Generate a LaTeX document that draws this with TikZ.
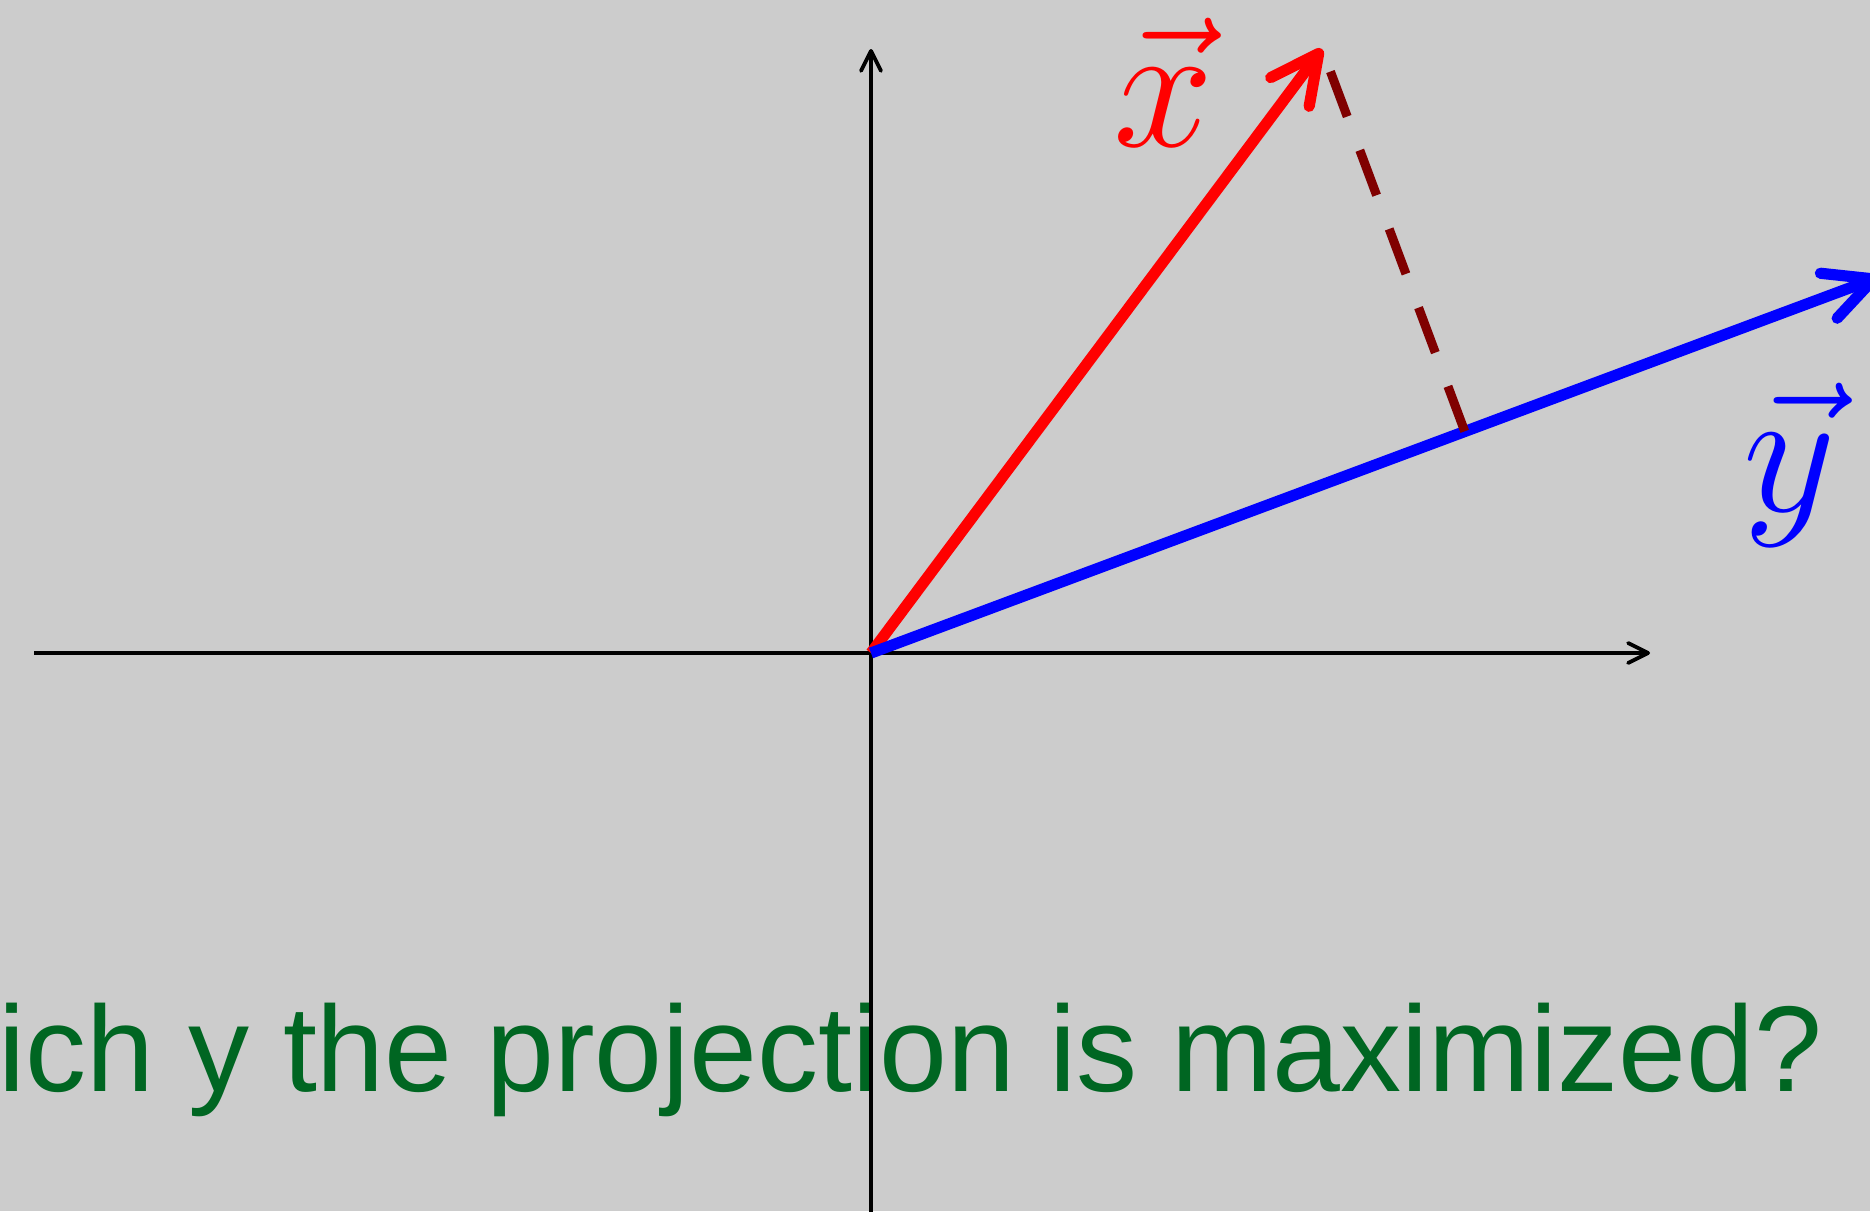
\RequirePackage{fix-cm}
\documentclass[tikz,border=0pt]{standalone}
\usepackage{fontspec}
\setmainfont{Liberation Sans}
\usetikzlibrary{arrows.meta}
\definecolor{bg}{RGB}{204,204,204}
\definecolor{qgreen}{RGB}{0,102,34}
\definecolor{dred}{RGB}{128,0,0}
\begin{document}
\begin{tikzpicture}[x=0.5pt,y=-0.5pt,
  axisline/.style={line width=1.9pt,black,-{Straight Barb[length=10pt,width=10pt,round]}},
  vecline/.style={line width=5.6pt,-{Straight Barb[length=24pt,width=24pt,round]}},
  projline/.style={line width=4.5pt,dred,dash pattern=on 24pt off 18pt},
  veclabel/.style={font=\fontsize{90}{90}\selectfont,anchor=base,inner sep=0pt},
  question/.style={text=qgreen,font=\fontsize{61}{61}\selectfont,anchor=base west,inner sep=0pt}]
\fill[bg] (0,0) rectangle (1870,1211);
\useasboundingbox (0,0) rectangle (1870,1211);
\coordinate (O) at (871,653);
\coordinate (xl) at (34,653);
\coordinate (xr) at (1650,653);
\coordinate (yb) at (871,1215);
\coordinate (yt) at (871,49);
\coordinate (X) at (1322,49);
\coordinate (Y) at (1879,277);
\coordinate (P) at (1464.7,431.3);
\node[question] (q) at (-2,1091) {ich y the projection is maximized?};
\draw[axisline] (xl) -- (xr);
\draw[axisline] (yb) -- (yt);
\draw[vecline,red] (O) -- (X);
\draw[vecline,blue] (O) -- (Y);
\draw[projline] (P) -- (X);
\node[veclabel,text=red] (lx) at (1164,146) {$\vec{x}$};
\node[veclabel,text=blue] (ly) at (1790,511) {$\vec{y}$};
\end{tikzpicture}
\end{document}
